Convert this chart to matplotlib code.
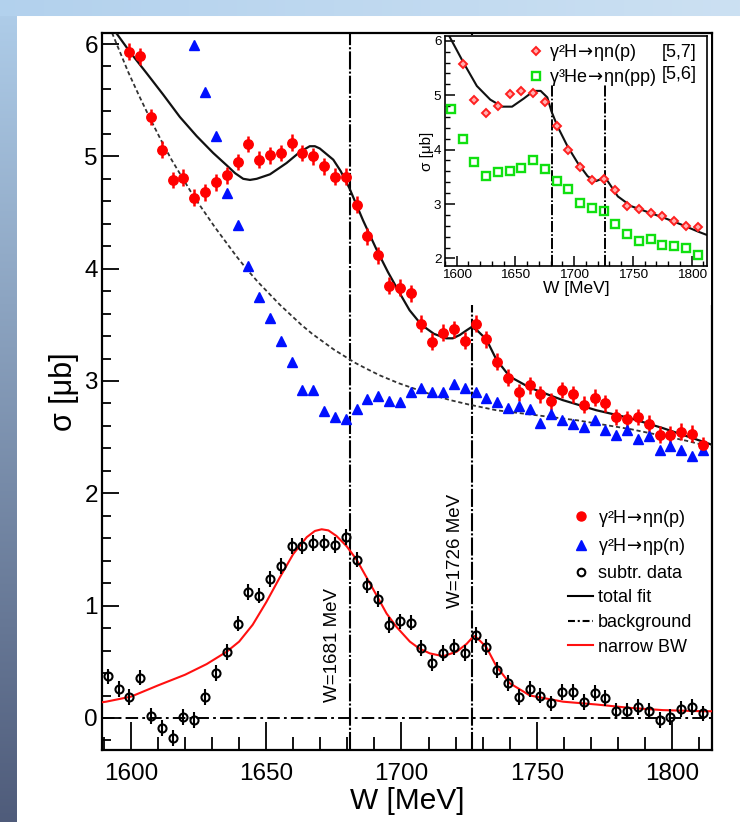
import numpy as np
import matplotlib
matplotlib.use('Agg')
import matplotlib.pyplot as plt
from matplotlib.ticker import MultipleLocator
from matplotlib.lines import Line2D
from matplotlib.patches import Rectangle

plt.rcParams['font.family'] = ['Liberation Sans', 'DejaVu Sans']
plt.rcParams['mathtext.fontset'] = 'dejavusans'
plt.rcParams['lines.scale_dashes'] = False

# ---------------- data (main panel) ----------------
red_x = [1599.4, 1603.4, 1607.4, 1611.4, 1615.4, 1619.4, 1623.4, 1627.4, 1631.4, 1635.4,
         1639.4, 1643.4, 1647.4, 1651.4, 1655.4, 1659.4, 1663.4, 1667.4, 1671.4, 1675.4,
         1679.4, 1683.4, 1687.4, 1691.4, 1695.4, 1699.4, 1703.4, 1707.4, 1711.4, 1715.4,
         1719.4, 1723.4, 1727.4, 1731.4, 1735.4, 1739.4, 1743.4, 1747.4, 1751.4, 1755.4,
         1759.4, 1763.4, 1767.4, 1771.4, 1775.4, 1779.4, 1783.4, 1787.4, 1791.4, 1795.4,
         1799.4, 1803.4, 1807.4, 1811.4]
red_y = [5.93, 5.89, 5.35, 5.06, 4.79, 4.81, 4.63, 4.68, 4.77, 4.83,
         4.95, 5.11, 4.97, 5.01, 5.03, 5.12, 5.03, 5.00, 4.91, 4.82,
         4.82, 4.57, 4.29, 4.12, 3.85, 3.83, 3.78, 3.51, 3.35, 3.43,
         3.46, 3.36, 3.51, 3.37, 3.17, 3.03, 2.90, 2.96, 2.88, 2.82,
         2.92, 2.88, 2.79, 2.85, 2.80, 2.68, 2.66, 2.68, 2.62, 2.52,
         2.52, 2.55, 2.53, 2.43]
red_err = 0.075

blue_x = [1623.4, 1627.4, 1631.4, 1635.4, 1639.4, 1643.4, 1647.4, 1651.4, 1655.4, 1659.4,
          1663.4, 1667.4, 1671.4, 1675.4, 1679.4, 1683.4, 1687.4, 1691.4, 1695.4, 1699.4,
          1703.4, 1707.4, 1711.4, 1715.4, 1719.4, 1723.4, 1727.4, 1731.4, 1735.4, 1739.4,
          1743.4, 1747.4, 1751.4, 1755.4, 1759.4, 1763.4, 1767.4, 1771.4, 1775.4, 1779.4,
          1783.4, 1787.4, 1791.4, 1795.4, 1799.4, 1803.4, 1807.4, 1811.4]
blue_y = [5.99, 5.57, 5.18, 4.67, 4.39, 4.02, 3.75, 3.56, 3.36, 3.17,
          2.92, 2.92, 2.73, 2.68, 2.66, 2.75, 2.84, 2.87, 2.82, 2.81,
          2.90, 2.94, 2.90, 2.90, 2.97, 2.94, 2.90, 2.85, 2.81, 2.76,
          2.78, 2.75, 2.63, 2.71, 2.65, 2.62, 2.59, 2.65, 2.56, 2.52,
          2.56, 2.48, 2.51, 2.39, 2.42, 2.39, 2.33, 2.39]

sub_x = [1591.4, 1595.4] + red_x
sub_y = [0.37, 0.26, 0.19, 0.36, 0.02, -0.09, -0.18, 0.01, -0.02, 0.19, 0.40, 0.59,
         0.84, 1.12, 1.09, 1.24, 1.35, 1.53, 1.53, 1.56, 1.56, 1.54, 1.61, 1.41,
         1.18, 1.06, 0.83, 0.86, 0.85, 0.62, 0.49, 0.58, 0.63, 0.58, 0.74, 0.63,
         0.43, 0.31, 0.19, 0.26, 0.20, 0.13, 0.23, 0.23, 0.14, 0.22, 0.18, 0.06,
         0.06, 0.10, 0.06, -0.02, 0.01, 0.08, 0.10, 0.04]
sub_err = 0.07

fit_x = [1590.0, 1594.5, 1599.6, 1605.8, 1611.9, 1618.1, 1624.3, 1630.4, 1635.4, 1638.5,
         1641.5, 1644.0, 1646.5, 1651.4, 1657.5, 1662.5, 1666.1, 1668.0, 1669.8, 1674.8,
         1677.5, 1680.7, 1685.8, 1690.8, 1695.0, 1699.4, 1703.0, 1707.4, 1712.0, 1716.5,
         1719.0, 1721.6, 1724.0, 1725.9, 1728.0, 1731.4, 1735.1, 1740.0, 1747.5, 1759.6,
         1772.0, 1784.4, 1796.7, 1812.7, 1815.0]
fit_y = [6.28, 6.10, 5.93, 5.74, 5.55, 5.35, 5.18, 5.03, 4.92, 4.85,
         4.80, 4.79, 4.80, 4.84, 4.94, 5.04, 5.09, 5.09, 5.07, 4.97,
         4.87, 4.72, 4.43, 4.17, 3.97, 3.78, 3.63, 3.50, 3.42, 3.38,
         3.38, 3.41, 3.45, 3.48, 3.45, 3.37, 3.19, 3.04, 2.94, 2.83,
         2.74, 2.67, 2.58, 2.45, 2.43]

bkg_x = [1590, 1593, 1599, 1603, 1607, 1611, 1615, 1619, 1623, 1627, 1631, 1635, 1639,
         1643, 1647, 1651, 1655, 1659, 1663, 1667, 1671, 1675, 1679, 1683, 1687, 1692,
         1699, 1705, 1711, 1718, 1725, 1735, 1745, 1755, 1765, 1775, 1785, 1795, 1805, 1815]
bkg_y = [6.27, 6.10, 5.75, 5.54, 5.34, 5.15, 4.97, 4.81, 4.65, 4.51, 4.37, 4.24, 4.11,
         3.99, 3.88, 3.78, 3.68, 3.59, 3.50, 3.42, 3.35, 3.28, 3.22, 3.16, 3.11, 3.05,
         2.98, 2.93, 2.88, 2.83, 2.79, 2.74, 2.71, 2.68, 2.65, 2.61, 2.57, 2.52, 2.47, 2.41]

bw_x = [1589.3, 1590.8, 1600.0, 1610.0, 1620.0, 1628.0, 1635.4, 1640.0, 1645.0, 1650.0,
        1655.0, 1660.0, 1665.0, 1668.0, 1670.5, 1673.0, 1676.0, 1679.7, 1683.4, 1688.3,
        1692.0, 1694.5, 1698.2, 1703.1, 1706.5, 1710.5, 1715.4, 1720.4, 1724.1, 1726.0,
        1727.1, 1728.5, 1731.4, 1735.1, 1740.0, 1747.5, 1759.8, 1772.1, 1784.4, 1796.7,
        1811.5, 1815.0]
bw_y = [0.14, 0.145, 0.19, 0.29, 0.385, 0.48, 0.59, 0.68, 0.83, 1.03,
        1.25, 1.46, 1.61, 1.665, 1.68, 1.67, 1.62, 1.53, 1.41, 1.20,
        1.04, 0.93, 0.81, 0.68, 0.62, 0.575, 0.55, 0.59, 0.66, 0.71,
        0.73, 0.70, 0.63, 0.46, 0.31, 0.20, 0.145, 0.12, 0.09, 0.07,
        0.06, 0.06]

res_lines = [1681, 1726]
res_labels = ['W=1681 MeV', 'W=1726 MeV']

ARROW = '$\\!\\rightarrow\\!$'
legend_labels = ['γ²H' + ARROW + 'ηn(p)', 'γ²H' + ARROW + 'ηp(n)', 'subtr. data',
                 'total fit', 'background', 'narrow BW']

# ---------------- data (inset) ----------------
in_red_x = [1605, 1615, 1625, 1635, 1645, 1655, 1665, 1675, 1685, 1695, 1705,
            1715, 1725, 1735, 1745, 1755, 1765, 1775, 1785, 1795, 1805]
in_red_y = [5.58, 4.91, 4.68, 4.81, 5.03, 5.08, 5.05, 4.87, 4.44, 3.99, 3.68,
            3.45, 3.46, 3.25, 2.96, 2.91, 2.83, 2.78, 2.68, 2.59, 2.58]
in_green_x = [1595, 1605, 1615, 1625, 1635, 1645, 1655, 1665, 1675, 1685, 1695,
              1705, 1715, 1725, 1735, 1745, 1755, 1765, 1775, 1785, 1795, 1805]
in_green_y = [4.75, 4.20, 3.78, 3.51, 3.58, 3.61, 3.66, 3.80, 3.65, 3.43, 3.28,
              3.01, 2.93, 2.88, 2.63, 2.45, 2.32, 2.35, 2.25, 2.22, 2.20, 2.06]
in_fit_x = [1590.0, 1594.3, 1605.7, 1617.1, 1628.5, 1638.6, 1647.1, 1657.1, 1665.6, 1671.4,
            1677.1, 1680.5, 1685.7, 1694.3, 1702.8, 1711.4, 1718.5, 1725.1, 1728.5, 1737.1,
            1748.5, 1762.8, 1777.1, 1791.4, 1805.7, 1813.0]
in_fit_y = [6.25, 6.06, 5.60, 5.17, 4.92, 4.79, 4.79, 4.94, 5.08, 5.08,
            4.96, 4.71, 4.43, 4.06, 3.76, 3.51, 3.42, 3.48, 3.42, 3.14,
            2.96, 2.85, 2.74, 2.62, 2.49, 2.43]
in_labels = ['γ²H' + ARROW + 'ηn(p)', 'γ³He' + ARROW + 'ηn(pp)']
in_refs = ['[5,7]', '[5,6]']

# ---------------- figure ----------------
W_PX, H_PX = 740, 822
fig = plt.figure(figsize=(W_PX / 100, H_PX / 100), dpi=100)

# slide background
bgax = fig.add_axes([0, 0, 1, 1], zorder=-10)
bgax.axis('off')
img = np.ones((H_PX, W_PX, 3))
t = np.linspace(0, 1, H_PX)[:, None]
left = np.array([0.69, 0.81, 0.92]) * (1 - t) + np.array([0.31, 0.36, 0.48]) * t
img[:, :17, :] = left[:, None, :]
s = np.linspace(0, 1, W_PX)[:, None]
topb = np.array([0.70, 0.82, 0.93]) * (1 - s) + np.array([0.80, 0.88, 0.95]) * s
img[:17, :, :] = topb[None, :, :]
bgax.imshow(img, extent=(0, W_PX, H_PX, 0), aspect='auto', interpolation='bilinear')
bgax.set_xlim(0, W_PX)
bgax.set_ylim(H_PX, 0)

# main axes
ax = fig.add_axes([102 / W_PX, 72 / H_PX, 610 / W_PX, 717 / H_PX], zorder=0)
ax.set_xlim(1589.3, 1814.8)
ax.set_ylim(-0.285, 6.098)

ax.axhline(0, color='black', lw=1.4, ls=(0, (9, 3, 2, 3)), zorder=1)
for xv in res_lines:
    ax.axvline(xv, color='black', lw=1.5, ls=(0, (13, 1.5, 1.5, 1.5)), zorder=1)

ax.plot(bkg_x, bkg_y, color='#333333', lw=1.3, ls=(0, (3, 2)), zorder=2)
ax.plot(fit_x, fit_y, color='#111111', lw=1.6, zorder=3)
ax.plot(bw_x, bw_y, color='#ff1010', lw=1.5, zorder=3)

ax.errorbar(red_x, red_y, yerr=red_err, fmt='o', color='#ff0000', ms=6.8, mec='#ff0000',
            elinewidth=1.8, capsize=0, zorder=4)
ax.plot(blue_x, blue_y, '^', color='#0010ff', ms=7, mec='#0010ff', ls='none', zorder=4)
ax.errorbar(sub_x, sub_y, yerr=sub_err, fmt='o', mfc='none', mec='black', ecolor='black',
            ms=5.8, mew=1.5, elinewidth=1.5, capsize=0, zorder=4)

ax.text(1674.6, 0.65, res_labels[0], rotation=90, ha='center', va='center', fontsize=13.5)
ax.text(1719.8, 1.49, res_labels[1], rotation=90, ha='center', va='center', fontsize=13.5)

ax.xaxis.set_major_locator(MultipleLocator(50))
ax.xaxis.set_minor_locator(MultipleLocator(10))
ax.yaxis.set_major_locator(MultipleLocator(1))
ax.yaxis.set_minor_locator(MultipleLocator(0.2))
ax.tick_params(which='both', direction='in', top=False, right=False, colors='black')
ax.tick_params(axis='x', which='major', length=20, width=1.3, pad=9, labelsize=17.5)
ax.tick_params(axis='x', which='minor', length=9.5, width=1.3)
ax.tick_params(axis='y', which='major', length=12.5, width=1.3, pad=3, labelsize=17.5)
ax.tick_params(axis='y', which='minor', length=6.5, width=1.3)
for sp in ax.spines.values():
    sp.set_linewidth(1.6)
ax.set_xlabel('W [MeV]', fontsize=21.5, labelpad=2)
ax.set_ylabel('σ [μb]', fontsize=22, labelpad=4)

handles = [
    Line2D([], [], ls='none', marker='o', color='#ff0000', ms=6.5),
    Line2D([], [], ls='none', marker='^', color='#0010ff', ms=6.5),
    Line2D([], [], ls='none', marker='o', mfc='none', mec='black', ms=5.5, mew=1.5),
    Line2D([], [], color='black', lw=1.5),
    Line2D([], [], color='black', lw=1.5, ls=(0, (5, 2, 1.5, 2))),
    Line2D([], [], color='#ff1010', lw=1.5),
]
ax.legend(handles, legend_labels, loc='upper left', bbox_to_anchor=(0.764, 0.338),
          frameon=False, fontsize=13, handlelength=1.4, handletextpad=0.25,
          labelspacing=0.42, borderpad=0, borderaxespad=0)

# inset pad
pad = Rectangle((425 / W_PX, (H_PX - 305) / H_PX), (710.5 - 425) / W_PX, (305 - 34.5) / H_PX,
                transform=fig.transFigure, facecolor='white', edgecolor='none', zorder=1)
fig.add_artist(pad)

axi = fig.add_axes([445 / W_PX, (H_PX - 266) / H_PX, 262 / W_PX, 229.5 / H_PX], zorder=2)
axi.set_xlim(1590, 1813)
axi.set_ylim(1.86, 6.08)
axi.vlines(res_lines, 1.86, 5.2, color='black', lw=1.4, ls=(0, (8, 1.5, 1.2, 1.5)), zorder=1)
axi.plot(in_fit_x, in_fit_y, color='#111111', lw=1.5, zorder=2)
axi.plot(in_green_x, in_green_y, 's', mfc='none', mec='#10e010', ms=6, mew=1.7, ls='none', zorder=3)
axi.plot(in_red_x, in_red_y, 'D', mfc='#ffb0b0', mec='#ff2020', ms=4.2, mew=1.4, ls='none', zorder=3)
axi.xaxis.set_major_locator(MultipleLocator(50))
axi.xaxis.set_minor_locator(MultipleLocator(10))
axi.yaxis.set_major_locator(MultipleLocator(1))
axi.yaxis.set_minor_locator(MultipleLocator(0.2))
axi.tick_params(which='both', direction='in', top=False, right=False)
axi.tick_params(which='major', length=7, width=1.1, labelsize=9.7, pad=2.5)
axi.tick_params(which='minor', length=3.5, width=1.0)
for sp in axi.spines.values():
    sp.set_linewidth(1.2)
axi.set_xlabel('W [MeV]', fontsize=12.5, labelpad=0)
axi.set_ylabel('σ [μb]', fontsize=11, labelpad=0)

ihandles = [
    Line2D([], [], ls='none', marker='D', mfc='#ffb0b0', mec='#ff2020', ms=4.2, mew=1.4),
    Line2D([], [], ls='none', marker='s', mfc='none', mec='#10e010', ms=6, mew=1.7),
]
axi.legend(ihandles, in_labels, loc='upper left', bbox_to_anchor=(0.316, 0.975),
           frameon=False, fontsize=13, handlelength=0.9, handletextpad=0.25,
           labelspacing=0.2, borderpad=0, borderaxespad=0)
axi.text(0.828, 0.932, in_refs[0], transform=axi.transAxes, ha='left', va='center', fontsize=13)
axi.text(0.828, 0.836, in_refs[1], transform=axi.transAxes, ha='left', va='center', fontsize=13)

fig.savefig('out.png', dpi=100)
